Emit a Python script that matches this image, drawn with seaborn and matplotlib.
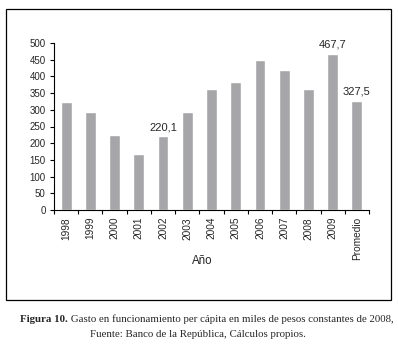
import matplotlib
matplotlib.use("Agg")
import matplotlib.pyplot as plt
import seaborn as sns
import pandas as pd
from matplotlib.patches import Rectangle
from matplotlib.ticker import FixedLocator

categories = ["1998", "1999", "2000", "2001", "2002", "2003", "2004", "2005",
              "2006", "2007", "2008", "2009", "Promedio"]
values = [324, 293, 224, 168, 220.1, 293, 362, 383, 449, 419, 362, 467.7, 327.5]
labels = {4: "220,1", 11: "467,7", 12: "327,5"}
y_ticks = [0, 50, 100, 150, 200, 250, 300, 350, 400, 450, 500]

sns.set_style("white")
plt.rcParams["font.family"] = ["Liberation Sans", "DejaVu Sans"]

df = pd.DataFrame({"Año": categories, "Valor": values})

fig = plt.figure(figsize=(3.98, 3.5), dpi=100)
ax = fig.add_axes([54 / 398, 1 - 210 / 350, 315 / 398, 167 / 350])

sns.barplot(data=df, x="Año", y="Valor", color="#a6a6a8", saturation=1,
            width=0.45, ax=ax)

ax.set_xlim(-0.5, len(categories) - 0.5)
ax.set_ylim(0, 500)
ax.set_yticks(y_ticks)
ax.set_yticklabels([str(t) for t in y_ticks], fontsize=7)
ax.set_xticks(range(len(categories)))
ax.set_xticklabels(categories, rotation=90, fontsize=7.3)
ax.xaxis.set_minor_locator(FixedLocator([i - 0.5 for i in range(len(categories) + 1)]))
ax.tick_params(axis="x", which="major", length=0, pad=5)
ax.tick_params(axis="x", which="minor", length=3, width=0.8, direction="out", bottom=True, color="black")
ax.tick_params(axis="y", which="major", length=3, width=0.8, direction="out", left=True, pad=3, color="black")

for s in ["top", "right"]:
    ax.spines[s].set_visible(False)
for s in ["left", "bottom"]:
    ax.spines[s].set_color("black")
    ax.spines[s].set_linewidth(0.8)

ax.set_ylabel("")
ax.set_xlabel("Año", fontsize=8.3)
ax.xaxis.set_label_coords((202.5 - 54) / 315, -45 / 167)

for i, txt in labels.items():
    ax.annotate(txt, (i, values[i]), xytext=(0, 3), textcoords="offset points",
                ha="center", va="bottom", fontsize=8)

fig.patches.append(Rectangle((6 / 398, 1 - 300 / 350), 385 / 398, 291 / 350,
                             transform=fig.transFigure, fill=False,
                             edgecolor="black", linewidth=0.9))

cap_font = ["Liberation Serif", "DejaVu Serif"]
t1 = fig.text(20 / 398, 1 - 322 / 350, "Figura 10.", fontsize=7.8,
              fontweight="bold", ha="left", va="baseline", family=cap_font)
ax.annotate(" Gasto en funcionamiento per cápita en miles de pesos constantes de 2008,",
            xy=(1, 0), xycoords=t1, ha="left", va="bottom", fontsize=7.8,
            family=cap_font, annotation_clip=False)
fig.text(198 / 398, 1 - 337 / 350, "Fuente: Banco de la República, Cálculos propios.",
         fontsize=7.8, ha="center", va="baseline", family=cap_font)

fig.savefig("out.png", dpi=100)
